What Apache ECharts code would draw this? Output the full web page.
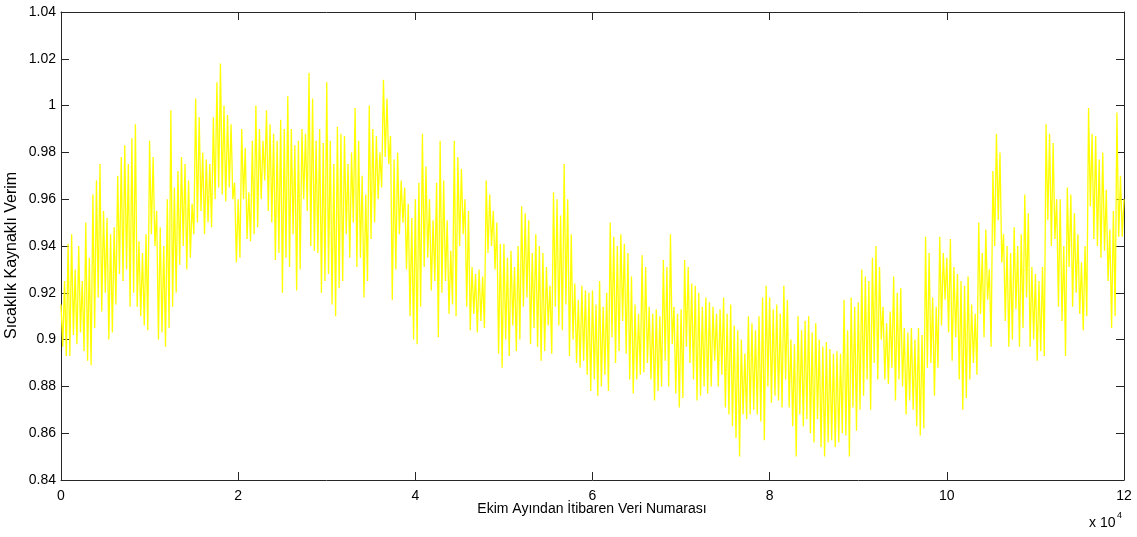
<!DOCTYPE html>
<html>
<head>
<meta charset="utf-8">
<script src="https://cdn.jsdelivr.net/npm/echarts@6/dist/echarts.min.js"></script>
<style>
html,body{margin:0;padding:0;background:#fff;}
#chart{width:1137px;height:537px;}
</style>
</head>
<body>
<div id="chart"></div>
<script>
// Sample number step between consecutive readings (raw units)
const sampleStep = 200;
// Efficiency readings, one every sampleStep samples; one row per 10^4 samples
const efficiency = [
0.915,0.897,0.925,0.893,0.941,0.893,0.945,0.902,0.930,0.898,0.940,0.903,0.925,0.895,0.950,0.891,0.935,0.889,0.962,0.905,0.968,0.918,0.975,0.912,0.955,0.920,0.952,0.900,0.945,0.903,0.948,0.915,0.970,0.928,0.978,0.925,0.983,0.930,0.975,0.914,0.986,0.920,0.992,0.914,0.942,0.910,0.937,0.906,0.945,0.904,
0.985,0.945,0.978,0.940,0.955,0.900,0.948,0.903,0.940,0.897,0.960,0.905,0.998,0.914,0.965,0.920,0.972,0.932,0.978,0.940,0.975,0.930,0.968,0.935,0.958,0.945,1.003,0.950,0.995,0.955,0.980,0.945,0.977,0.950,0.975,0.948,0.995,0.960,1.010,0.965,1.018,0.962,1.000,0.959,0.996,0.965,0.992,0.960,0.967,0.933,
0.960,0.935,0.990,0.960,0.982,0.943,0.963,0.942,0.985,0.945,1.000,0.948,0.990,0.960,0.985,0.968,0.998,0.955,0.992,0.950,0.988,0.934,0.985,0.937,0.994,0.920,0.990,0.935,1.004,0.931,0.990,0.945,0.983,0.921,0.985,0.930,0.990,0.960,0.988,0.955,1.014,0.940,1.003,0.938,0.985,0.937,0.990,0.920,0.984,0.925,
1.010,0.928,0.985,0.915,0.975,0.910,0.991,0.922,0.988,0.925,0.987,0.945,0.975,0.935,0.980,0.950,0.999,0.931,0.985,0.935,0.970,0.918,0.962,0.925,1.000,0.943,0.990,0.950,0.987,0.960,0.980,0.965,1.011,0.978,1.003,0.975,0.987,0.917,0.977,0.930,0.980,0.945,0.968,0.950,0.965,0.930,0.958,0.910,0.952,0.900,
0.960,0.898,0.967,0.914,0.988,0.931,0.974,0.935,0.960,0.921,0.951,0.925,0.967,0.901,0.985,0.920,0.968,0.925,0.951,0.911,0.938,0.915,0.985,0.910,0.978,0.940,0.973,0.945,0.960,0.914,0.955,0.904,0.931,0.911,0.928,0.903,0.930,0.908,0.927,0.905,0.968,0.937,0.962,0.940,0.955,0.930,0.950,0.894,0.941,0.888,
0.941,0.900,0.935,0.893,0.938,0.906,0.931,0.895,0.940,0.900,0.957,0.914,0.954,0.918,0.951,0.898,0.937,0.905,0.945,0.897,0.940,0.891,0.937,0.895,0.931,0.906,0.923,0.894,0.963,0.914,0.960,0.906,0.953,0.904,0.975,0.915,0.960,0.893,0.945,0.900,0.924,0.890,0.917,0.888,0.923,0.891,0.921,0.885,0.920,0.878,
0.921,0.883,0.915,0.876,0.925,0.880,0.914,0.885,0.920,0.878,0.950,0.901,0.944,0.890,0.940,0.895,0.945,0.908,0.941,0.894,0.937,0.883,0.927,0.877,0.915,0.883,0.911,0.885,0.936,0.886,0.931,0.890,0.914,0.883,0.911,0.874,0.913,0.878,0.910,0.880,0.934,0.891,0.931,0.880,0.945,0.898,0.914,0.877,0.911,0.871,
0.913,0.875,0.934,0.897,0.931,0.890,0.924,0.883,0.923,0.874,0.920,0.876,0.914,0.880,0.918,0.877,0.916,0.880,0.914,0.891,0.911,0.880,0.913,0.885,0.918,0.871,0.911,0.868,0.915,0.863,0.906,0.858,0.904,0.850,0.900,0.868,0.894,0.866,0.910,0.868,0.907,0.870,0.904,0.868,0.910,0.865,0.918,0.857,0.923,0.880,
0.918,0.873,0.913,0.876,0.915,0.874,0.911,0.871,0.923,0.883,0.917,0.871,0.900,0.863,0.898,0.850,0.910,0.868,0.904,0.863,0.908,0.866,0.910,0.860,0.903,0.856,0.907,0.866,0.900,0.854,0.897,0.850,0.899,0.856,0.896,0.857,0.894,0.854,0.895,0.856,0.894,0.860,0.917,0.859,0.904,0.850,0.918,0.871,0.914,0.861,
0.916,0.870,0.930,0.876,0.927,0.883,0.925,0.870,0.935,0.890,0.940,0.883,0.931,0.900,0.914,0.883,0.907,0.881,0.912,0.888,0.927,0.874,0.920,0.883,0.922,0.880,0.905,0.868,0.903,0.874,0.905,0.870,0.900,0.863,0.905,0.859,0.902,0.862,0.944,0.888,0.937,0.890,0.918,0.876,0.914,0.888,0.944,0.906,0.937,0.917,
0.935,0.903,0.943,0.891,0.931,0.901,0.928,0.883,0.925,0.870,0.923,0.875,0.927,0.883,0.915,0.890,0.911,0.885,0.950,0.911,0.937,0.901,0.947,0.917,0.930,0.897,0.972,0.940,0.988,0.951,0.980,0.933,0.945,0.908,0.940,0.897,0.937,0.900,0.948,0.913,0.940,0.897,0.945,0.905,0.962,0.918,0.954,0.897,0.931,0.900,
0.928,0.891,0.925,0.895,0.931,0.893,0.992,0.951,0.988,0.940,0.984,0.943,0.960,0.914,0.960,0.908,0.940,0.893,0.965,0.931,0.962,0.914,0.954,0.920,0.945,0.911,0.933,0.904,0.940,0.910,0.999,0.957,0.988,0.943,0.987,0.940,0.977,0.935,0.980,0.938,0.964,0.925,0.947,0.905,0.955,0.910,0.997,0.944,0.970,0.944,
0.960
];
const xTitle = 'Ekim Ayından İtibaren Veri Numarası';
const yTitle = 'Sıcaklık Kaynaklı Verim';
const xScaleNote = 'x 10';
const xScaleExp = '4';

const points = efficiency.map((v, i) => [i * sampleStep, v]);

const axisColor = '#262626';
const fontFamily = 'Liberation Sans, Arial, sans-serif';
const labelStyle = {color: '#000', fontSize: 14, fontFamily: fontFamily};

const chart = echarts.init(document.getElementById('chart'), null, {renderer: 'canvas'});

const xFmt = v => String(v / 10000);
const yFmt = v => String(+v.toFixed(2));

const baseX = {
  type: 'value', min: 0, max: 120000, interval: 20000,
  axisLine: {show: true, onZero: false, lineStyle: {color: axisColor, width: 1}},
  axisTick: {show: true, inside: true, length: 8, lineStyle: {color: axisColor}},
  splitLine: {show: false}
};
const baseY = {
  type: 'value', min: 0.84, max: 1.04, interval: 0.02,
  axisLine: {show: true, onZero: false, lineStyle: {color: axisColor, width: 1}},
  axisTick: {show: true, inside: true, length: 8, lineStyle: {color: axisColor}},
  splitLine: {show: false}
};

chart.setOption({
  animation: false,
  backgroundColor: '#fff',
  grid: {left: 61, right: 13, top: 12, bottom: 57, containLabel: false},
  xAxis: [
    Object.assign({}, baseX, {position: 'bottom',
      axisLabel: Object.assign({show: true, margin: 9, formatter: xFmt}, labelStyle)}),
    Object.assign({}, baseX, {position: 'top', axisLabel: {show: false}})
  ],
  yAxis: [
    Object.assign({}, baseY, {position: 'left',
      axisLabel: Object.assign({show: true, margin: 5, formatter: yFmt}, labelStyle)}),
    Object.assign({}, baseY, {position: 'right', axisLabel: {show: false}})
  ],
  series: [{
    type: 'line',
    data: points,
    xAxisIndex: 0,
    yAxisIndex: 0,
    showSymbol: false,
    symbol: 'none',
    lineStyle: {color: '#ffff00', width: 1.3},
    itemStyle: {color: '#ffff00'}
  }],
  graphic: [
    {type: 'text', x: 592, y: 502, style: {text: xTitle, textAlign: 'center', fill: '#000', fontSize: 14, fontFamily: fontFamily}},
    {type: 'text', rotation: Math.PI / 2, x: 4, y: 339, style: {text: yTitle, fill: '#000', fontSize: 16, fontFamily: fontFamily}},
    {type: 'text', x: 1089, y: 516, style: {text: xScaleNote, fill: '#000', fontSize: 14, fontFamily: fontFamily}},
    {type: 'text', x: 1117, y: 511, style: {text: xScaleExp, fill: '#000', fontSize: 9, fontFamily: fontFamily}}
  ]
});
</script>
</body>
</html>
